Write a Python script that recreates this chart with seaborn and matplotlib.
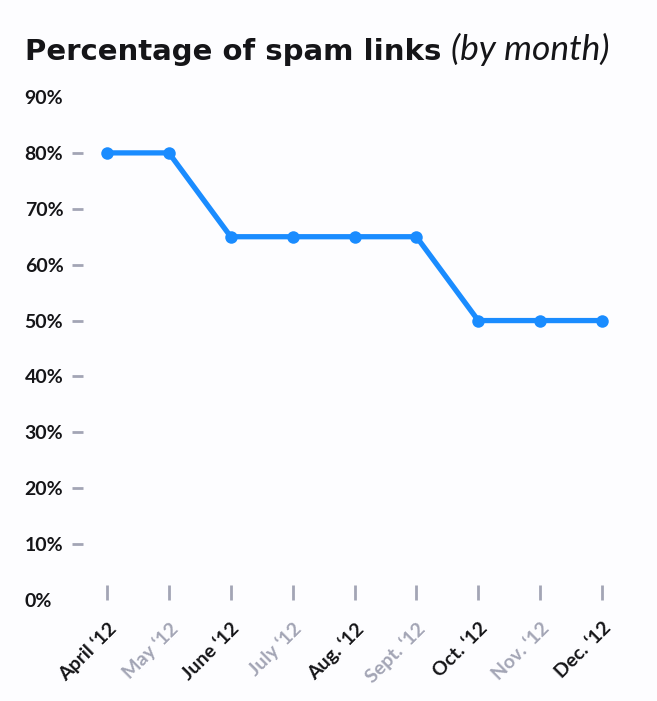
import matplotlib
matplotlib.use("Agg")
import matplotlib.pyplot as plt
import seaborn as sns
import pandas as pd

months = ["April \u201812", "May \u201812", "June \u201812", "July \u201812", "Aug. \u201812",
          "Sept. \u201812", "Oct. \u201812", "Nov. \u201812", "Dec. \u201812"]
spam_pct = [80, 80, 65, 65, 65, 65, 50, 50, 50]
y_ticks = [0, 10, 20, 30, 40, 50, 60, 70, 80, 90]

BLUE = "#1a8cff"
GRAY = "#a3a5b5"
INK = "#151518"

sns.set_theme(style="white")
plt.rcParams["font.family"] = ["Lato", "DejaVu Sans"]

df = pd.DataFrame({"x": range(len(months)), "pct": spam_pct})

fig = plt.figure(figsize=(6.57, 7.01), dpi=100)
fig.patch.set_facecolor("#fdfdff")
ax = fig.add_axes([107 / 657, 101 / 701, 495 / 657, 503 / 701])
ax.set_facecolor("#fdfdff")

sns.lineplot(data=df, x="x", y="pct", ax=ax, color=BLUE, linewidth=3.8,
             marker="o", markersize=9, markeredgewidth=0, clip_on=False)

ax.set_xlim(0, len(months) - 1)
ax.set_ylim(0, 90)
for s in ax.spines.values():
    s.set_visible(False)
ax.spines["left"].set_position(("outward", 17.3))

ax.set_yticks(y_ticks)
ax.set_yticklabels([f"{v}%" for v in y_ticks], fontsize=14, fontweight="bold",
                   color=INK, ha="left")
ax.tick_params(axis="y", direction="out", length=8, width=2, color=GRAY,
               pad=34, left=True)
yt = ax.yaxis.get_major_ticks()
yt[0].tick1line.set_visible(False)
yt[-1].tick1line.set_visible(False)

ax.set_xticks(range(len(months)))
ax.set_xticklabels(months, rotation=45, ha="right", rotation_mode="anchor",
                   fontsize=14, fontweight="bold")
for i, lab in enumerate(ax.get_xticklabels()):
    lab.set_color(INK if i % 2 == 0 else GRAY)
ax.tick_params(axis="x", direction="in", length=11, width=2, color=GRAY,
               pad=14, bottom=True)

ax.set_xlabel("")
ax.set_ylabel("")
ax.grid(False)

t1 = fig.text(25 / 657, 1 - 60 / 701, "Percentage of spam links", fontsize=21,
              fontweight="bold", family="DejaVu Sans", color=INK, va="baseline")
fig.canvas.draw()
bb = t1.get_window_extent()
fig.text((bb.x1 + 10) / 657, 1 - 60 / 701, "(by month)", fontsize=25.5,
         fontstyle="italic", fontweight="normal", color=INK, va="baseline")

fig.savefig("out.png", dpi=100, facecolor=fig.get_facecolor())
